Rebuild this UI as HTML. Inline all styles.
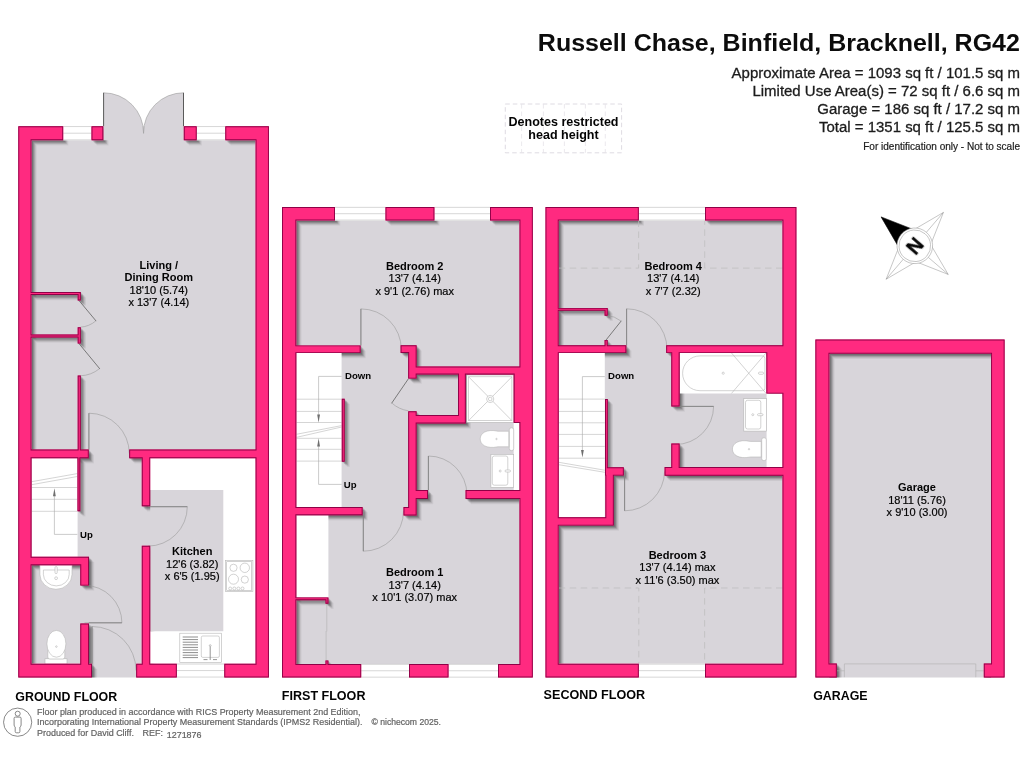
<!DOCTYPE html>
<html lang="en"><head><meta charset="utf-8"><title>Russell Chase, Binfield, Bracknell, RG42 - Floor Plan</title>
<style>html,body{margin:0;padding:0;background:#fff}body{width:1024px;height:768px;overflow:hidden}svg{display:block}</style></head>
<body>
<svg width="1024" height="768" viewBox="0 0 1024 768" font-family="'Liberation Sans', Arial, sans-serif">
<defs>
<path id="w" d="M18.3 126.2L18.3 140.2L18.3 663.7L18.3 677.4L31.5 677.4L92 677.4L92 663.7L89 663.7L89 623.6L80.3 623.6L80.3 663.7L31.5 663.7L31.5 565.2L80.3 565.2L80.3 585.6L89 585.6L89 565.2L89 565L89 556.8L31.5 556.8L31.5 458.2L77.5 458.2L77.5 511.3L80.3 511.3L80.3 458.2L88.75 458.2L88.75 449.6L80.8 449.6L80.8 375.6L77.7 375.6L77.7 449.6L31.5 449.6L31.5 337.4L77.7 337.4L77.7 343.6L80.8 343.6L80.8 337.4L80.8 334.5L80.8 327.2L77.7 327.2L77.7 334.5L31.5 334.5L31.5 294.9L77.7 294.9L77.7 300.5L80.8 300.5L80.8 294.9L80.8 292L77.7 292L31.5 292L31.5 140.2L63.2 140.2L63.2 126.2L31.5 126.2ZM225.3 126.2L225.3 140.2L255.6 140.2L255.6 449.6L129.2 449.6L129.2 458.2L141.8 458.2L141.8 506.2L150.2 506.2L150.2 458.2L255.6 458.2L255.6 663.7L224.3 663.7L224.3 677.4L255.6 677.4L268.9 677.4L268.9 663.7L268.9 140.2L268.9 126.2L255.6 126.2ZM183.8 140.2L196.7 140.2L196.7 126.2L183.8 126.2ZM91.5 140.2L103.3 140.2L103.3 126.2L91.5 126.2ZM282 207L282 220.4L282 664L282 677.5L296.3 677.5L361.2 677.5L361.2 664L328.4 664L328.4 660.4L325.5 660.4L325.5 664L296.3 664L296.3 600.2L325.5 600.2L325.5 603.8L328.4 603.8L328.4 600.2L328.4 597.4L325.5 597.4L296.3 597.4L296.3 515.3L362.6 515.3L362.6 507L296.3 507L296.3 353.1L360.6 353.1L360.6 345.4L296.3 345.4L296.3 220.4L335 220.4L335 207L296.3 207ZM136.2 663.7L136.2 677.4L176.8 677.4L176.8 663.7L150.2 663.7L150.2 545.8L141.8 545.8L141.8 663.7ZM434.4 220.4L434.4 207L385.5 207L385.5 220.4ZM519.5 220.4L519.5 366.5L416.6 366.5L416.6 353L416.6 345.2L408.2 345.2L400.6 345.2L400.6 353L408.2 353L408.2 378.6L416.6 378.6L416.6 374.5L458 374.5L458 415.1L416.6 415.1L416.6 411.2L408.2 411.2L408.2 507L403.5 507L403.5 515.4L408.2 515.4L416.6 515.4L416.6 507L416.6 499L428 499L428 490L416.6 490L416.6 423.5L465.8 423.5L465.8 423.4L465.8 415.1L465.8 374.5L513.7 374.5L513.7 423L519.5 423L519.5 490.1L465.6 490.1L465.6 499L519.5 499L519.5 664L498 664L498 677.5L519.5 677.5L532.8 677.5L532.8 664L532.8 220.4L532.8 207L519.5 207L490 207L490 220.4ZM604.6 310.7L604.6 315.7L607.7 315.7L607.7 310.7L607.7 307.9L604.6 307.9L558.7 307.9L558.7 220.4L638.8 220.4L638.8 207L558.7 207L545.5 207L545.5 220.4L545.5 663.8L545.5 677.5L558.7 677.5L638.8 677.5L638.8 663.8L558.7 663.8L558.7 525.6L605.4 525.6L613.8 525.6L613.8 517.2L613.8 475.6L623.8 475.6L623.8 467.2L613.8 467.2L607.8 467.2L607.8 399L605 399L605 467.2L605 467.4L605 475.6L605.4 475.6L605.4 517.2L558.7 517.2L558.7 353.1L626.3 353.1L626.3 345.2L607.7 345.2L607.7 339.9L604.6 339.9L604.6 345.2L558.7 345.2L558.7 310.7ZM344.7 461.8L344.7 398.8L341.8 398.8L341.8 461.8ZM409 677.5L448.5 677.5L448.5 664L409 664ZM705 207L705 220.4L782.5 220.4L782.5 345.2L666.2 345.2L666.2 353.1L671.3 353.1L671.3 406.4L679.6 406.4L679.6 353.1L766.4 353.1L766.4 393.6L782.5 393.6L782.5 467.1L679.6 467.1L679.6 443.6L671.3 443.6L671.3 467.1L664.6 467.1L664.6 475.8L782.5 475.8L782.5 663.8L705 663.8L705 677.5L782.5 677.5L796.4 677.5L796.4 663.8L796.4 220.4L796.4 207L782.5 207ZM829.4 339.5L815.4 339.5L815.4 353.7L815.4 663.6L815.4 677.5L829.4 677.5L836.8 677.5L836.8 663.6L829.4 663.6L829.4 353.7L991.1 353.7L991.1 663.6L983.8 663.6L983.8 677.5L991.1 677.5L1004.6 677.5L1004.6 663.6L1004.6 353.7L1004.6 339.5L991.1 339.5Z"/>
<clipPath id="fc"><path d="M103.3 126.2L103.3 140.2L31.5 140.2L31.5 663.7L92 663.7L92 677.4L136.2 677.4L136.2 663.7L255.6 663.7L255.6 140.2L183.8 140.2L183.8 126.2ZM782.5 663.8L782.5 220.4L558.7 220.4L558.7 663.8ZM296.3 664L519.5 664L519.5 220.4L296.3 220.4ZM991.1 677.5L991.1 353.7L829.4 353.7L829.4 677.5Z"/></clipPath>
<clipPath id="wc"><use href="#w"/></clipPath>
<filter id="sb" x="-2%" y="-2%" width="104%" height="104%"><feGaussianBlur stdDeviation="0.45"/></filter>
</defs>
<rect width="1024" height="768" fill="#fff"/>
<path d="M103.3 126.2L103.3 140.2L31.5 140.2L31.5 663.7L92 663.7L92 677.4L136.2 677.4L136.2 663.7L255.6 663.7L255.6 140.2L183.8 140.2L183.8 126.2ZM782.5 663.8L782.5 220.4L558.7 220.4L558.7 663.8ZM296.3 664L519.5 664L519.5 220.4L296.3 220.4ZM991.1 677.5L991.1 353.7L829.4 353.7L829.4 677.5Z" fill="#D8D5DA"/>
<g clip-path="url(#fc)"><g filter="url(#sb)" fill="#000">
<use href="#w" transform="translate(0.75 0.75)" fill-opacity="0.127"/>
<use href="#w" transform="translate(1.5 1.5)" fill-opacity="0.113"/>
<use href="#w" transform="translate(2.25 2.25)" fill-opacity="0.139"/>
<use href="#w" transform="translate(3.0 3.0)" fill-opacity="0.122"/>
<use href="#w" transform="translate(3.75 3.75)" fill-opacity="0.089"/>
<use href="#w" transform="translate(4.5 4.5)" fill-opacity="0.053"/>
<use href="#w" transform="translate(5.25 5.25)" fill-opacity="0.05"/>
</g></g>
<rect x="150.2" y="490" width="73.1" height="141.2" fill="#D8D5DA"/>
<path d="M766.4 393.6L766.4 353L679.6 353L679.6 393.6ZM341.6 507L341.6 353L296.3 353L296.3 507ZM782.5 467.2L782.5 393.6L766.6 393.6L766.6 467.2ZM604.8 353L558.7 353L558.7 517.2L604.8 517.2ZM519.5 423L513.7 423L513.7 490.2L519.5 490.2ZM223.3 490L223.3 631.2L150 631.2L150 663.7L223.3 663.7L255.6 663.7L255.6 631.2L255.6 490L255.6 458L223.3 458L150 458L150 490ZM77.6 557L77.6 458L31.5 458L31.5 557ZM328.4 597.4L328.4 515.2L296.3 515.2L296.3 597.4Z" fill="#fff"/>
<g fill="none" stroke="#b9b9b9" stroke-width="0.6">
<!-- GF stairs -->
<path d="M31.5 487.5H77.3M31.5 499.3H77.3M31.5 511.3H77.3M31.6 481.7L77.3 473.6M31.6 484.7L77.3 476.5"/>
<!-- FF stairs -->
<path d="M296.3 399.2H341.6M296.3 411.4H341.6M296.3 422.5H341.6M296.3 438.3H341.6M296.3 449.3H341.6M296.3 461.1H341.6M296.3 434.3L341.6 425.6M296.3 437.4L341.6 427"/>
<!-- SF stairs -->
<path d="M558.7 399.1H604.8M558.7 411.4H604.8M558.7 422.8H604.8M558.7 434.4H604.8M558.7 446.4H604.8M558.7 458.2H604.8M558.7 462.3L604.8 470.2M558.7 464.7L604.8 472.3"/>
</g>
<g fill="none" stroke="#a8a8a8" stroke-width="0.6">
<path d="M77.3 534.4H54.4V494"/>
<path d="M341.6 376.4H318.6V416"/>
<path d="M341.6 484.4H318.6V445"/>
<path d="M604.8 376.6H582.4V452"/>
</g>
<g fill="#6f6f6f">
<path d="M54.4 488.2L55.8 496.2H53Z"/>
<path d="M318.6 422.6L320 414.4H317.2Z"/>
<path d="M318.6 438.2L320 446.5H317.2Z"/>
<path d="M582.4 457.5L583.8 450H581Z"/>
</g>
<!-- restricted head height dashes -->
<g fill="none" stroke="#bcbcbc" stroke-width="0.7" stroke-dasharray="6.5 4.5">
<path d="M558.7 268.1H638.6V220.4M782.5 268.1H704.7V220.4"/>
<path d="M558.7 588H638.8V663.8M782.5 588H704.6V663.8"/>
</g>
<!-- kitchen hob -->
<g fill="#fff" stroke="#b5b5b5" stroke-width="0.6">
<rect x="225.5" y="560.5" width="27.4" height="31"/>
<rect x="226.7" y="561.7" width="25" height="28.6"/>
<circle cx="233.5" cy="567.8" r="3.6"/><circle cx="244.8" cy="567.8" r="4.7"/>
<circle cx="233.5" cy="579.2" r="5"/><circle cx="244.8" cy="579.6" r="3.6"/>
<circle cx="230.2" cy="588.5" r="1.5"/><circle cx="234.3" cy="588.5" r="1.5"/><circle cx="238.4" cy="588.5" r="1.5"/><circle cx="242.5" cy="588.5" r="1.5"/>
</g>
<!-- kitchen sink -->
<g fill="#fff" stroke="#b5b5b5" stroke-width="0.6">
<rect x="179.8" y="633.2" width="41.8" height="29.3"/>
<rect x="201.3" y="636" width="18.1" height="21.4" rx="1.5"/>
</g>
<path d="M182.7 637H198M182.7 639.6H198M182.7 642.2H198M182.7 644.8H198M182.7 647.4H198M182.7 650H198M182.7 652.6H198M182.7 655.2H198M182.7 657.6H198" stroke="#8e8e8e" stroke-width="1" fill="none"/>
<path d="M210.2 646.6V660M203.5 659.6H207.5M213 659.6H217" stroke="#8a8a8a" stroke-width="0.9" fill="none"/>
<circle cx="210.2" cy="645.6" r="0.9" fill="none" stroke="#8a8a8a" stroke-width="0.5"/>
<!-- GF basin -->
<g fill="#fff" stroke="#b5b5b5" stroke-width="0.6">
<path d="M39.9 565H72V574.5A16.05 14.8 0 0 1 39.9 574.5Z"/>
<path d="M43.4 570H69.2V574.5A12.9 11.4 0 0 1 43.4 574.5Z"/>
<rect x="55" y="566.6" width="2.2" height="7" rx="1"/>
<circle cx="56.1" cy="578.2" r="1.4"/>
</g>
<!-- GF toilet -->
<g fill="#fff" stroke="#b5b5b5" stroke-width="0.6">
<rect x="45" y="658.8" width="22" height="5.2"/>
<rect x="47.8" y="649" width="17" height="10" rx="2"/>
<ellipse cx="56.4" cy="643.8" rx="9.5" ry="13.4"/>
<circle cx="56.4" cy="646.6" r="0.8"/>
</g>
<!-- FF shower -->
<g fill="#fff" stroke="#b5b5b5" stroke-width="0.6">
<rect x="466.8" y="375" width="46.9" height="47.4"/>
<rect x="468.6" y="376.8" width="43.3" height="43.8"/>
<path d="M468.6 376.8L511.9 420.6M511.9 376.8L468.6 420.6"/>
<circle cx="490.2" cy="399" r="3.6"/><circle cx="490.2" cy="399" r="1.8"/>
</g>
<!-- FF toilet -->
<g fill="#fff" stroke="#b5b5b5" stroke-width="0.6">
<rect x="509.3" y="427.8" width="4.4" height="22.8" rx="2"/>
<path d="M508.8 431.2H498C486 428.6 480.2 433.5 480.2 438.9C480.2 444.5 486 449.2 498 446.8H508.8Z"/>
<circle cx="496.5" cy="439" r="0.7"/>
</g>
<!-- FF basin -->
<g fill="#fff" stroke="#b5b5b5" stroke-width="0.6">
<rect x="490.9" y="454.3" width="22.8" height="33.1"/>
<rect x="492.3" y="456" width="15.5" height="29.2" rx="2"/>
<circle cx="500.2" cy="471" r="1"/><rect x="505" y="470" width="5.5" height="2" rx="1"/>
</g>
<!-- SF bath -->
<g fill="#fff" stroke="#b5b5b5" stroke-width="0.6">
<path d="M700 355.9H762.4a2.5 2.5 0 0 1 2.5 2.5V388.2a2.5 2.5 0 0 1-2.5 2.5H700A17.4 17.4 0 0 1 700 355.9Z"/>
<circle cx="723.2" cy="373.2" r="1.1"/>
<rect x="758.5" y="372.1" width="5" height="2.2" rx="1"/>
<path d="M731.5 353L766 393.4M731.5 393.4L766 353" fill="none"/>
</g>
<!-- SF basin -->
<g fill="#fff" stroke="#b5b5b5" stroke-width="0.6">
<rect x="743.8" y="398.6" width="22.5" height="32.5"/>
<rect x="745.5" y="400.3" width="15.3" height="28.7" rx="2"/>
<circle cx="752.8" cy="414.7" r="1"/><rect x="757.5" y="413.7" width="5.5" height="2" rx="1"/>
</g>
<!-- SF toilet -->
<g fill="#fff" stroke="#b5b5b5" stroke-width="0.6">
<rect x="761.7" y="437.8" width="4.6" height="22.8" rx="2"/>
<path d="M761.2 441.4H750.4C738.4 438.8 732.4 443.7 732.4 449.1C732.4 454.7 738.4 459.4 750.4 457H761.2Z"/>
<circle cx="749" cy="449.2" r="0.7"/>
</g>
<!-- legend box -->
<g fill="none" stroke="#d6d2da" stroke-width="0.8" stroke-dasharray="4.5 3">
<rect x="505.3" y="104" width="116.3" height="48.8"/>
<path d="M521.6 104V152.8M543.4 104V152.8M564.4 104V152.8M585.4 104V152.8M605.3 104V152.8" stroke="#e6e3e9"/>
</g>
<!-- compass -->
<g transform="translate(914.8 245.8) rotate(-49.4)" fill="none" stroke="#8a8a8a" stroke-width="0.45" stroke-linejoin="miter">
<path d="M0 -44L11.3 -11.3L44 0L11.3 11.3L0 44L-11.3 11.3L-44 0L-11.3 -11.3Z"/>
<path d="M0 -44V44M-44 0H44"/>
<path d="M0 -44.4L11.6 -11.3L-11.6 -11.3Z" fill="#000" stroke="#000"/>
<circle r="17.8" fill="#fff"/>
<circle r="15.8" fill="#fff"/>
</g>
<!-- RICS icon -->
<g fill="none" stroke="#6a6a6a" stroke-width="0.8">
<circle cx="17.65" cy="722.2" r="14.1"/>
<circle cx="17.7" cy="713.7" r="2.5"/>
<path d="M15.3 717.1H20Q21.1 717.1 21.1 718.3V725Q21.1 726.4 19.9 727V731.5Q19.9 732.8 18.6 732.8H16.6Q15.2 732.8 15.2 731.5V727Q14.1 726.4 14.1 725V718.3Q14.1 717.1 15.3 717.1Z"/>
</g>

<g fill="#D8D5DA" stroke="#9a9a9a" stroke-width="0.6" stroke-linejoin="round">
<path d="M103.4 140.2V92.8A40 40 0 0 1 143.55 133.4A40 40 0 0 1 183.7 92.8V140.2Z" stroke="none"/>
<path d="M103.4 92.8A40 40 0 0 1 143.55 133.4A40 40 0 0 1 183.7 92.8" fill="none"/>
<path fill="none" d="M88.9 453.6V413.2A40.4 40.4 0 0 1 129.3 453.6"/>
<path fill="none" d="M147.9 506.7H187.3A39.4 39.4 0 0 1 147.9 546.1"/>
<path fill="none" d="M84.5 622.8H121.9A37.4 37.4 0 0 0 84.5 585.4"/>
<path fill="none" d="M92 670.5V626.5A44 44 0 0 1 136 670.5"/>
<path fill="none" d="M360.9 349.3V308.9A40.4 40.4 0 0 1 401.3 349.3"/>
<path fill="none" d="M428.4 494.5V456A38.5 38.5 0 0 1 466.9 494.5"/>
<path fill="none" d="M363.3 511V551.2A40.2 40.2 0 0 0 403.5 511"/>
<path fill="none" d="M626.6 349.2V308.8A40.4 40.4 0 0 1 667 349.2"/>
<path fill="none" d="M675.5 406.4H713.6A38.1 38.1 0 0 1 675.5 444.5"/>
<path fill="none" d="M624.6 471.4V510.8A40 40 0 0 0 664.6 471.4"/>
</g>
<g fill="none" stroke="#9a9a9a" stroke-width="0.6">
<path d="M95.9 320.8A26.7 26.7 0 0 1 80.4 327.2"/>
<path d="M99.6 368.6A32.5 32.5 0 0 1 80.4 375.8"/>
<path d="M391.8 403A31 31 0 0 0 408.4 410.8"/>
<path d="M621.1 321.1A24 24 0 0 0 606.2 315.6"/>
</g>
<g fill="none" stroke="#6e6e6e" stroke-width="0.9" stroke-linecap="round">
<path d="M79 300.5L95.9 320.8"/>
<path d="M79 343.6L99.6 368.6"/>
<path d="M408.4 378.8L391.8 403"/>
<path d="M606.2 339.8L621.1 321.1"/>
</g>
<g fill="none" stroke="#7c7c7c" stroke-width="0.8">
<path d="M88.9 449.6V413.2M150.2 506.7H187.3M88.9 622.8H121.9M92 663.7V626.5M360.9 345.4V308.9M428.4 490V456M363.3 515.3V551.2M626.6 345.2V308.8M679.6 406.4H713.6M624.6 475.6V510.8"/>
</g>
<g fill="none" stroke="#5a5a5a" stroke-width="1">
<path d="M103.6 92.8V126.2M183.5 92.8V126.2"/>
</g>
<g fill="none" stroke="#b0b0b0" stroke-width="0.6">
<path d="M326.8 603.8V631.4M326.1 631V660.4"/>
<path d="M844.4 677.2V663.9H975.8V677.2M836.8 670.8H844.4M975.8 670.8H983.8"/>
</g>

<rect x="63.2" y="126.2" width="28.30" height="14.00" fill="#fff"/>
<path d="M63.2 126.55H91.5M63.2 133.2H91.5M63.2 139.85H91.5" stroke="#c6c6c6" stroke-width="0.7" fill="none"/>
<rect x="196.7" y="126.2" width="28.60" height="14.00" fill="#fff"/>
<path d="M196.7 126.55H225.3M196.7 133.2H225.3M196.7 139.85H225.3" stroke="#c6c6c6" stroke-width="0.7" fill="none"/>
<rect x="176.8" y="663.7" width="47.50" height="13.70" fill="#fff"/>
<path d="M176.8 664.0500000000001H224.3M176.8 670.55H224.3M176.8 677.05H224.3" stroke="#c6c6c6" stroke-width="0.7" fill="none"/>
<rect x="335" y="207" width="50.50" height="13.40" fill="#fff"/>
<path d="M335 207.35H385.5M335 213.7H385.5M335 220.05H385.5" stroke="#c6c6c6" stroke-width="0.7" fill="none"/>
<rect x="434.4" y="207" width="55.60" height="13.40" fill="#fff"/>
<path d="M434.4 207.35H490M434.4 213.7H490M434.4 220.05H490" stroke="#c6c6c6" stroke-width="0.7" fill="none"/>
<rect x="361.2" y="664" width="47.80" height="13.50" fill="#fff"/>
<path d="M361.2 664.35H409M361.2 670.75H409M361.2 677.15H409" stroke="#c6c6c6" stroke-width="0.7" fill="none"/>
<rect x="448.5" y="664" width="49.50" height="13.50" fill="#fff"/>
<path d="M448.5 664.35H498M448.5 670.75H498M448.5 677.15H498" stroke="#c6c6c6" stroke-width="0.7" fill="none"/>
<rect x="638.8" y="207" width="66.20" height="13.40" fill="#fff"/>
<path d="M638.8 207.35H705M638.8 213.7H705M638.8 220.05H705" stroke="#c6c6c6" stroke-width="0.7" fill="none"/>
<rect x="638.8" y="663.8" width="66.20" height="13.70" fill="#fff"/>
<path d="M638.8 664.15H705M638.8 670.65H705M638.8 677.15H705" stroke="#c6c6c6" stroke-width="0.7" fill="none"/>
<use href="#w" fill="#FF2A80"/>
<g clip-path="url(#wc)"><use href="#w" fill="none" stroke="#8f0046" stroke-width="1.9" stroke-linejoin="miter"/></g>
<g opacity="0.99">
<text transform="translate(1019.9 50.8) scale(1.0164 1)" font-size="24.6" font-weight="bold" text-anchor="end" fill="#0a0a0a">Russell Chase, Binfield, Bracknell, RG42</text>
<text transform="translate(1020 77.5) scale(1.02 1)" font-size="14.7" text-anchor="end" fill="#1a1a1a" stroke="#1a1a1a" stroke-width="0.3">Approximate Area = 1093 sq ft / 101.5 sq m</text>
<text transform="translate(1020 95.6) scale(1.02 1)" font-size="14.7" text-anchor="end" fill="#1a1a1a" stroke="#1a1a1a" stroke-width="0.3">Limited Use Area(s) = 72 sq ft / 6.6 sq m</text>
<text transform="translate(1020 113.7) scale(1.02 1)" font-size="14.7" text-anchor="end" fill="#1a1a1a" stroke="#1a1a1a" stroke-width="0.3">Garage = 186 sq ft / 17.2 sq m</text>
<text transform="translate(1020 131.9) scale(1.02 1)" font-size="14.7" text-anchor="end" fill="#1a1a1a" stroke="#1a1a1a" stroke-width="0.3">Total = 1351 sq ft / 125.5 sq m</text>
<text transform="translate(1020 149.8) scale(1.005 1)" font-size="10" text-anchor="end" fill="#1a1a1a" stroke="#1a1a1a" stroke-width="0.2">For identification only - Not to scale</text>
<text transform="translate(563.5 125.6) scale(1.02 1)" font-size="12.3" font-weight="bold" text-anchor="middle" fill="#000">Denotes restricted</text>
<text transform="translate(563.5 139) scale(1.02 1)" font-size="12.3" font-weight="bold" text-anchor="middle" fill="#000">head height</text>
<text transform="translate(158.8 268.5) scale(1.04 1)" font-size="10.6" font-weight="bold" text-anchor="middle" fill="#000">Living /</text>
<text transform="translate(158.8 281.0) scale(1.04 1)" font-size="10.6" font-weight="bold" text-anchor="middle" fill="#000">Dining Room</text>
<text transform="translate(158.8 293.5) scale(1.04 1)" font-size="10.6" text-anchor="middle" fill="#000" stroke="#000" stroke-width="0.2">18'10 (5.74)</text>
<text transform="translate(158.8 306.0) scale(1.04 1)" font-size="10.6" text-anchor="middle" fill="#000" stroke="#000" stroke-width="0.2">x 13'7 (4.14)</text>
<text transform="translate(192.2 555) scale(1.04 1)" font-size="10.6" font-weight="bold" text-anchor="middle" fill="#000">Kitchen</text>
<text transform="translate(192.2 567.7) scale(1.04 1)" font-size="10.6" text-anchor="middle" fill="#000" stroke="#000" stroke-width="0.2">12'6 (3.82)</text>
<text transform="translate(192.2 580.4) scale(1.04 1)" font-size="10.6" text-anchor="middle" fill="#000" stroke="#000" stroke-width="0.2">x 6'5 (1.95)</text>
<text transform="translate(414.7 269.5) scale(1.04 1)" font-size="10.6" font-weight="bold" text-anchor="middle" fill="#000">Bedroom 2</text>
<text transform="translate(414.7 282.0) scale(1.04 1)" font-size="10.6" text-anchor="middle" fill="#000" stroke="#000" stroke-width="0.2">13'7 (4.14)</text>
<text transform="translate(414.7 294.5) scale(1.04 1)" font-size="10.6" text-anchor="middle" fill="#000" stroke="#000" stroke-width="0.2">x 9'1 (2.76) max</text>
<text transform="translate(414.7 576.3) scale(1.04 1)" font-size="10.6" font-weight="bold" text-anchor="middle" fill="#000">Bedroom 1</text>
<text transform="translate(414.7 588.8) scale(1.04 1)" font-size="10.6" text-anchor="middle" fill="#000" stroke="#000" stroke-width="0.2">13'7 (4.14)</text>
<text transform="translate(414.7 601.3) scale(1.04 1)" font-size="10.6" text-anchor="middle" fill="#000" stroke="#000" stroke-width="0.2">x 10'1 (3.07) max</text>
<text transform="translate(673.2 269.5) scale(1.04 1)" font-size="10.6" font-weight="bold" text-anchor="middle" fill="#000">Bedroom 4</text>
<text transform="translate(673.2 282.0) scale(1.04 1)" font-size="10.6" text-anchor="middle" fill="#000" stroke="#000" stroke-width="0.2">13'7 (4.14)</text>
<text transform="translate(673.2 294.5) scale(1.04 1)" font-size="10.6" text-anchor="middle" fill="#000" stroke="#000" stroke-width="0.2">x 7'7 (2.32)</text>
<text transform="translate(677.4 558.8) scale(1.04 1)" font-size="10.6" font-weight="bold" text-anchor="middle" fill="#000">Bedroom 3</text>
<text transform="translate(677.4 571.3) scale(1.04 1)" font-size="10.6" text-anchor="middle" fill="#000" stroke="#000" stroke-width="0.2">13'7 (4.14) max</text>
<text transform="translate(677.4 583.8) scale(1.04 1)" font-size="10.6" text-anchor="middle" fill="#000" stroke="#000" stroke-width="0.2">x 11'6 (3.50) max</text>
<text transform="translate(917 491.3) scale(1.04 1)" font-size="10.6" font-weight="bold" text-anchor="middle" fill="#000">Garage</text>
<text transform="translate(917 503.8) scale(1.04 1)" font-size="10.6" text-anchor="middle" fill="#000" stroke="#000" stroke-width="0.2">18'11 (5.76)</text>
<text transform="translate(917 516.3) scale(1.04 1)" font-size="10.6" text-anchor="middle" fill="#000" stroke="#000" stroke-width="0.2">x 9'10 (3.00)</text>
<text transform="translate(80 537.8) scale(1.0 1)" font-size="9.6" font-weight="bold" text-anchor="start" fill="#000">Up</text>
<text transform="translate(345 379.1) scale(1.0 1)" font-size="9.6" font-weight="bold" text-anchor="start" fill="#000">Down</text>
<text transform="translate(343.7 487.5) scale(1.0 1)" font-size="9.6" font-weight="bold" text-anchor="start" fill="#000">Up</text>
<text transform="translate(608.1 378.5) scale(1.0 1)" font-size="9.6" font-weight="bold" text-anchor="start" fill="#000">Down</text>
<text transform="translate(15.3 701.3) scale(1.0 1)" font-size="12.4" font-weight="bold" text-anchor="start" fill="#000">GROUND FLOOR</text>
<text transform="translate(281.8 699.9) scale(1.005 1)" font-size="12.5" font-weight="bold" text-anchor="start" fill="#000">FIRST FLOOR</text>
<text transform="translate(543.6 699.2) scale(1.008 1)" font-size="12.5" font-weight="bold" text-anchor="start" fill="#000">SECOND FLOOR</text>
<text transform="translate(813.2 699.5) scale(1.0 1)" font-size="12.4" font-weight="bold" text-anchor="start" fill="#000">GARAGE</text>
<text transform="translate(37 714.7) scale(1.0 1)" font-size="8.96" text-anchor="start" fill="#5f5f5f" stroke="#5f5f5f" stroke-width="0.2">Floor plan produced in accordance with RICS Property Measurement 2nd Edition,</text>
<text transform="translate(37 725.3) scale(1.0 1)" font-size="8.96" text-anchor="start" fill="#5f5f5f" stroke="#5f5f5f" stroke-width="0.2">Incorporating International Property Measurement Standards (IPMS2 Residential).</text>
<text transform="translate(37 736) scale(1.0 1)" font-size="8.96" text-anchor="start" fill="#5f5f5f" stroke="#5f5f5f" stroke-width="0.2">Produced for David Cliff.</text>
<text transform="translate(142.6 736) scale(1.0 1)" font-size="8.96" text-anchor="start" fill="#5f5f5f" stroke="#5f5f5f" stroke-width="0.2">REF:</text>
<text transform="translate(166.7 738) scale(1.0 1)" font-size="8.96" text-anchor="start" fill="#5f5f5f" stroke="#5f5f5f" stroke-width="0.2">1271876</text>
<text transform="translate(371.5 725.3) scale(1.0 1)" font-size="8.6" text-anchor="start" fill="#5f5f5f" stroke="#5f5f5f" stroke-width="0.2">© nichecom 2025.</text>
<text transform="translate(914.9 245.9) rotate(-49.4)" font-size="20" font-weight="bold" text-anchor="middle" y="7.2" fill="#000" stroke="#000" stroke-width="0.5" stroke-linejoin="round">N</text>

</g>
</svg>
</body></html>
